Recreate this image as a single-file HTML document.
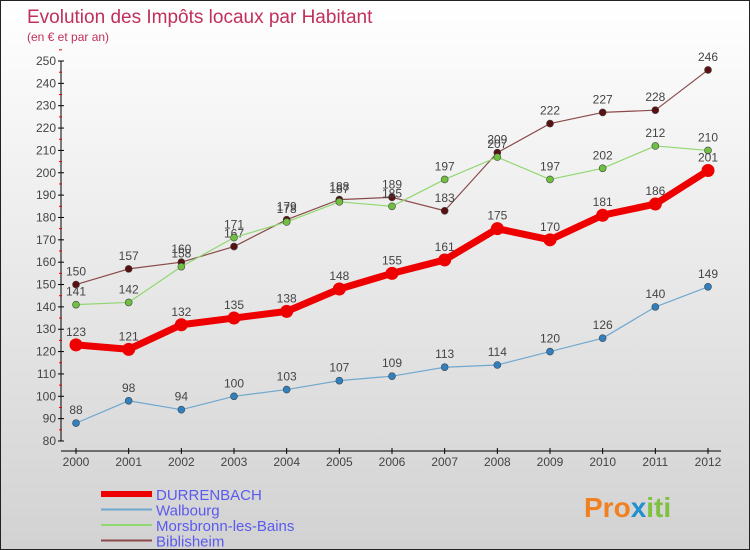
<!DOCTYPE html>
<html><head><meta charset="utf-8"><style>
body{margin:0}
#c{width:750px;height:550px;position:relative;background:linear-gradient(#fff,#d2d2d2);box-sizing:border-box;border:1px solid #222;font-family:"Liberation Sans",sans-serif;overflow:hidden}
</style></head><body>
<div id="c">
<svg width="750" height="550" style="position:absolute;left:0;top:0">
<text x="26" y="22" font-size="19" fill="#c0305a">Evolution des Impôts locaux par Habitant</text>
<text x="26" y="40" font-size="12" fill="#c0305a">(en € et par an)</text>
<g id="axes"></g><g id="series"></g>
<g id="legend"></g>
<text x="583" y="516" font-size="28" font-weight="bold" fill="#f08020">Pro<tspan fill="#2090d0">x</tspan><tspan fill="#80c040">iti</tspan></text>
</svg>
</div>
<script>
const years=[2000,2001,2002,2003,2004,2005,2006,2007,2008,2009,2010,2011,2012];
const durrenbach=[123,121,132,135,138,148,155,161,175,170,181,186,201];
const walbourg=[88,98,94,100,103,107,109,113,114,120,126,140,149];
const morsbronn=[141,142,158,171,178,187,185,197,207,197,202,212,210];
const biblisheim=[150,157,160,167,179,188,189,183,209,222,227,228,246];
const yTicks=[80,90,100,110,120,130,140,150,160,170,180,190,200,210,220,230,240,250];
const NS="http://www.w3.org/2000/svg";
const X=i=>75+i*(707-75)/12;
const Y=v=>440-(v-80)*(380/170);
function mk(t,a,p){const e=document.createElementNS(NS,t);for(const k in a)e.setAttribute(k,a[k]);p.appendChild(e);return e;}
const ax=document.getElementById('axes');
const yl=mk('line',{x1:60,y1:Y(250),x2:60,y2:Y(80),stroke:'#000','stroke-width':1},ax);


const xl=mk('line',{x1:60,y1:450,x2:720,y2:450,stroke:'#000','stroke-width':1},ax);


yTicks.forEach(v=>{
 mk('line',{x1:57,x2:63,y1:Y(v),y2:Y(v),stroke:'#000'},ax);
 mk('line',{x1:58,x2:61,y1:Y(v+5),y2:Y(v+5),stroke:'#e00'},ax);
 const t=mk('text',{x:55,y:Y(v)+4,'text-anchor':'end','font-size':12,fill:'#444'},ax);t.textContent=v;
 
 
});
years.forEach((y,i)=>{
 mk('line',{x1:X(i),x2:X(i),y1:447,y2:453,stroke:'#000'},ax);
 const t=mk('text',{x:X(i),y:465,'text-anchor':'middle','font-size':12,fill:'#444'},ax);t.textContent=y;
 
 
});
const sg=document.getElementById('series');
const series=[
 {n:'biblisheim',d:biblisheim,c:'#8a4a4a',p:'#5a1010',w:1.2,r:3.5},
 {n:'morsbronn',d:morsbronn,c:'#90d870',p:'#70c040',w:1.2,r:3.5},
 {n:'walbourg',d:walbourg,c:'#70a8d0',p:'#3080c0',w:1.2,r:3.5},
 {n:'durrenbach',d:durrenbach,c:'#ee0000',p:'#ee0000',w:7,r:6.5}];
series.forEach(s=>{
 const g=mk('g',{},sg);
 
 
 const pl=mk('polyline',{points:s.d.map((v,i)=>X(i)+','+Y(v)).join(' '),fill:'none',stroke:s.c,'stroke-width':s.w,'stroke-linejoin':'round'},g);
 
 
 s.d.forEach((v,i)=>{
  const c=mk('circle',{cx:X(i),cy:Y(v),r:s.r,fill:s.p,stroke:'#444','stroke-width':s.w>2?0:0.6},g);
  
  
  const t=mk('text',{x:X(i),y:Y(v)-9,'text-anchor':'middle','font-size':12,fill:'#444'},g);t.textContent=v;
  
  
 });
});
const lg=document.getElementById('legend');
const leg=[['DURRENBACH','#ee0000',6],['Walbourg','#70a8d0',2],['Morsbronn-les-Bains','#90d870',2],['Biblisheim','#8a4a4a',2]];
leg.forEach((l,i)=>{
 const y=493+i*15.5;
 const ln=mk('line',{x1:100,x2:151,y1:y,y2:y,stroke:l[1],'stroke-width':l[2]},lg);
 
 
 const t=mk('text',{x:155,y:y+6,'font-size':15,fill:'#5a5aee'},lg);t.textContent=l[0];
 
 
});
</script>
</body></html>
